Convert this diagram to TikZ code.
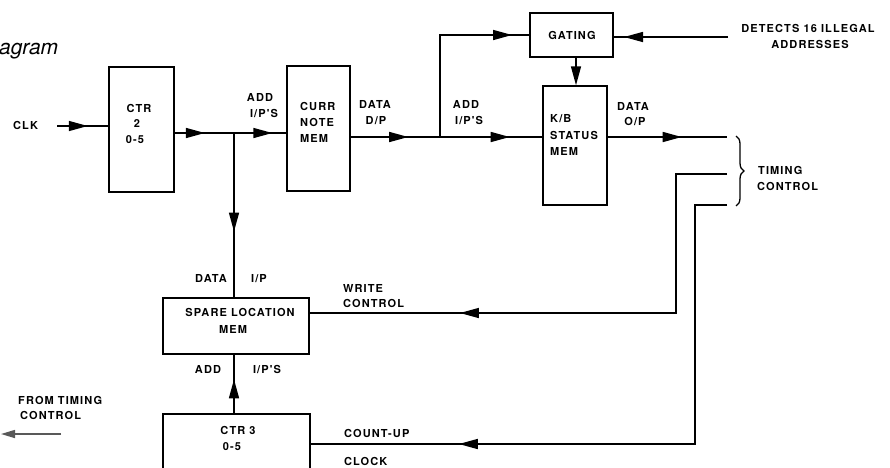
\documentclass[tikz,border=0pt]{standalone}
\usepackage{fontspec}
\setsansfont{TeX Gyre Heros}
\newfontfamily\lblfont{TeX Gyre Heros}[LetterSpace=10]
\usetikzlibrary{arrows.meta,decorations.markings,decorations.pathreplacing}
\tikzset{
  lbl/.style={font=\lblfont\bfseries\fontsize{11}{12}\selectfont, inner sep=0pt, text height=8pt, text depth=0pt},
  box/.style={draw, line width=1.5pt, inner sep=0pt},
  wire/.style={line width=1.5pt},
  tipat/.style={postaction={decorate,decoration={markings,mark=at position #1 with {\arrow{Triangle[length=19pt,width=10pt]}}}}},
}
\begin{document}
\begin{tikzpicture}[x=1pt,y=-1pt]
\useasboundingbox[fill=white] (0,0) rectangle (890,467);
% caption fragment
\node[font=\sffamily\itshape\fontsize{21}{21}\selectfont, anchor=base west, inner sep=0pt] (cap) at (-1,54) {agram};
% boxes
\node[box, minimum width=65pt, minimum height=125pt] (ctr2) at (141.5,129.5) {};
\node[box, minimum width=63pt, minimum height=125pt] (curr) at (318.5,128.5) {};
\node[box, minimum width=83pt, minimum height=44pt] (gating) at (571.5,35) {};
\node[box, minimum width=64pt, minimum height=119pt] (kb) at (575,145.5) {};
\node[box, minimum width=146pt, minimum height=56pt] (spare) at (236,326) {};
\node[box, minimum width=147pt, minimum height=66pt] (ctr3) at (236.5,447) {};
% box texts
\node[lbl] (c2a) at (139,108) {CTR};
\node[lbl] (c2b) at (137,123) {2};
\node[lbl] (c2c) at (135,139) {0-5};
\node[lbl, anchor=west] (cna) at (300,106) {CURR};
\node[lbl, anchor=west] (cnb) at (300,122) {NOTE};
\node[lbl, anchor=west] (cnc) at (300,138) {MEM};
\node[lbl] (gt) at (572,35) {GATING};
\node[lbl, anchor=west] (kba) at (550,118) {K/B};
\node[lbl, anchor=west] (kbb) at (550,135) {STATUS};
\node[lbl, anchor=west] (kbc) at (550,151) {MEM};
\node[lbl] (spa) at (240,312) {SPARE LOCATION};
\node[lbl] (spb) at (233,329) {MEM};
\node[lbl] (c3a) at (238,430) {CTR 3};
\node[lbl] (c3b) at (232,446) {0-5};
% free labels
\node[lbl, anchor=west] (clk) at (13,125) {CLK};
\node[lbl] (add1) at (260,97) {ADD};
\node[lbl] (ips1) at (264,113) {I/P'S};
\node[lbl] (data1) at (375,104) {DATA};
\node[lbl] (dp) at (376,120) {D/P};
\node[lbl] (add2) at (466,104) {ADD};
\node[lbl] (ips2) at (469,120) {I/P'S};
\node[lbl] (data2) at (633,106) {DATA};
\node[lbl] (op) at (635,121) {O/P};
\node[lbl] (det1) at (808,28) {DETECTS 16 ILLEGAL};
\node[lbl] (det2) at (810,44) {ADDRESSES};
\node[lbl, anchor=west] (tim1) at (758,170) {TIMING};
\node[lbl, anchor=west] (tim2) at (757,186) {CONTROL};
\node[lbl] (data3) at (211,278) {DATA};
\node[lbl] (ip3) at (259,278) {I/P};
\node[lbl, anchor=west] (wr1) at (343,288) {WRITE};
\node[lbl, anchor=west] (wr2) at (343,303) {CONTROL};
\node[lbl] (add3) at (208,369) {ADD};
\node[lbl] (ips3) at (267,369) {I/P'S};
\node[lbl, anchor=west] (cu) at (344,433) {COUNT-UP};
\node[lbl, anchor=west] (ck) at (344,461) {CLOCK};
\node[lbl, anchor=west] (ft1) at (18,400) {FROM TIMING};
\node[lbl, anchor=west] (ft2) at (20,415) {CONTROL};
% coordinates
\coordinate (clkin) at (57,126);
\coordinate (j1) at (234,133);
\coordinate (j2) at (440,137);
\coordinate (gk) at (576,0);
\coordinate (det) at (728,37);
\coordinate (dop) at (727,137);
\coordinate (t1) at (727,174);
\coordinate (t1c) at (676,313);
\coordinate (t2) at (727,205);
\coordinate (t2c) at (695,444);
\coordinate (ft) at (61,434);
\coordinate (ftend) at (1,434);
\coordinate (bt) at (736,136);
\coordinate (bb) at (736,206);
% connectors
\draw[wire, tipat=0.6] (clkin) -- (clkin -| ctr2.west);
\draw[wire, tipat=0.27, tipat=0.875] (ctr2.east |- j1) -- (curr.west |- j1);
\draw[wire, tipat=0.6] (j1) -- (j1 |- spare.north);
\draw[wire, tipat=0.30, tipat=0.83] (curr.east |- j2) -- (kb.west |- j2);
\draw[wire, tipat=0.91] (j2) |- (gating.west);
\draw[wire, -{Triangle[length=19pt,width=10pt]}] (gating.south -| gk) -- (kb.north -| gk);
\draw[wire, tipat=0.91] (det) -- (det -| gating.east);
\draw[wire, tipat=0.62] (kb.east |- dop) -- (dop);
\draw[wire, tipat=0.73] (t1) -| (t1c) -- (t1c -| spare.east);
\draw[wire, tipat=0.774] (t2) -| (t2c) -- (t2c -| ctr3.east);
\draw[wire, tipat=0.58] (ctr3.north -| j1) -- (spare.south -| j1);
\draw[line width=1.5pt, black!65, -{Triangle[length=14pt,width=8pt]}] (ft) -- (ftend);
\draw[line width=1.3pt, decorate, decoration={brace, amplitude=8pt}] (bt) -- (bb);
\end{tikzpicture}
\end{document}
